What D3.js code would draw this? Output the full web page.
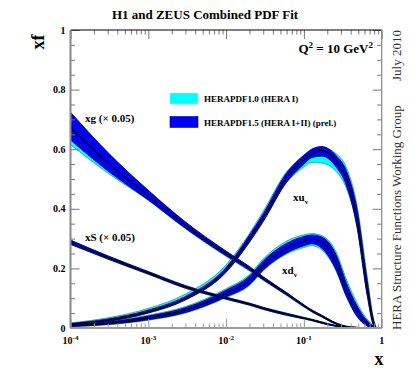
<!DOCTYPE html>
<html>
<head>
<meta charset="utf-8">
<script src="https://cdn.jsdelivr.net/npm/d3@7"></script>
<style>
  body { margin: 0; background: #fff; }
  svg { font-family: "Liberation Serif", "Times New Roman", serif; }
</style>
</head>
<body>
<div id="chart"></div>
<script>
/*
------------------------------
DATA: x grid and the PDF values
------------------------------
*/
const xGrid = [0.0001, 0.0003, 0.001, 0.003, 0.01, 0.02, 0.03, 0.06, 0.1, 0.126, 0.17, 0.26, 0.35, 0.48, 0.65, 0.78, 0.85];

// xg (x 0.05)
const xgCentral = [0.672, 0.555, 0.445, 0.345, 0.25, 0.2, 0.167, 0.115, 0.075, 0.058, 0.04, 0.015, 0.005, 0.001, 0, 0, 0];
const xgBlueLo  = [0.631, 0.528, 0.43, 0.335, 0.243, 0.194, 0.162, 0.111, 0.072, 0.055, 0.037, 0.013, 0.004, 0, 0, 0, 0];
const xgBlueHi  = [0.724, 0.59, 0.462, 0.356, 0.258, 0.206, 0.172, 0.119, 0.078, 0.061, 0.043, 0.017, 0.006, 0.002, 0, 0, 0];
const xgCyanLo  = [0.615, 0.52, 0.428, 0.333, 0.24, 0.191, 0.16, 0.109, 0.07, 0.054, 0.036, 0.012, 0.003, 0, 0, 0, 0];
const xgCyanHi  = [0.65, 0.545, 0.448, 0.35, 0.255, 0.205, 0.17, 0.118, 0.077, 0.06, 0.042, 0.016, 0.006, 0.002, 0, 0, 0];

// xS (x 0.05)
const xsCentral = [0.288, 0.237, 0.185, 0.138, 0.1, 0.08, 0.066, 0.046, 0.033, 0.027, 0.018, 0.007, 0.003, 0.001, 0, 0, 0];
const xsBlueLo  = [0.281, 0.232, 0.181, 0.134, 0.097, 0.077, 0.063, 0.043, 0.031, 0.025, 0.016, 0.006, 0.002, 0, 0, 0, 0];
const xsBlueHi  = [0.295, 0.242, 0.189, 0.142, 0.103, 0.083, 0.069, 0.049, 0.035, 0.029, 0.02, 0.008, 0.004, 0.002, 0, 0, 0];
const xsCyanLo  = [0.28, 0.231, 0.18, 0.133, 0.096, 0.076, 0.062, 0.042, 0.03, 0.024, 0.015, 0.005, 0.002, 0, 0, 0, 0];
const xsCyanHi  = [0.294, 0.243, 0.19, 0.143, 0.104, 0.084, 0.07, 0.05, 0.036, 0.03, 0.021, 0.009, 0.004, 0.002, 0, 0, 0];

// xu_v
const xuCentral = [0.012, 0.026, 0.055, 0.1, 0.195, 0.3, 0.37, 0.505, 0.565, 0.585, 0.597, 0.56, 0.505, 0.37, 0.135, 0.02, 0];
const xuBlueLo  = [0.009, 0.022, 0.05, 0.094, 0.187, 0.288, 0.357, 0.49, 0.55, 0.572, 0.577, 0.54, 0.48, 0.34, 0.11, 0.01, 0];
const xuBlueHi  = [0.015, 0.03, 0.06, 0.106, 0.203, 0.312, 0.383, 0.52, 0.58, 0.6, 0.609, 0.578, 0.528, 0.4, 0.16, 0.03, 0];
const xuCyanLo  = [0.009, 0.023, 0.053, 0.1, 0.192, 0.292, 0.36, 0.488, 0.54, 0.555, 0.553, 0.525, 0.47, 0.345, 0.115, 0.012, 0];
const xuCyanHi  = [0.017, 0.034, 0.066, 0.114, 0.212, 0.318, 0.392, 0.525, 0.578, 0.594, 0.605, 0.585, 0.54, 0.415, 0.175, 0.035, 0];

// xd_v
const xdCentral = [0.008, 0.016, 0.034, 0.06, 0.116, 0.16, 0.21, 0.268, 0.292, 0.298, 0.288, 0.22, 0.13, 0.057, 0.015, 0.003, 0];
const xdBlueLo  = [0.005, 0.012, 0.028, 0.052, 0.105, 0.146, 0.195, 0.252, 0.276, 0.283, 0.268, 0.195, 0.108, 0.04, 0.007, 0, 0];
const xdBlueHi  = [0.011, 0.02, 0.04, 0.068, 0.127, 0.174, 0.225, 0.284, 0.307, 0.312, 0.305, 0.245, 0.152, 0.075, 0.024, 0.006, 0];
const xdCyanLo  = [0.004, 0.011, 0.026, 0.05, 0.102, 0.143, 0.192, 0.248, 0.27, 0.276, 0.262, 0.19, 0.105, 0.038, 0.006, 0, 0];
const xdCyanHi  = [0.012, 0.022, 0.043, 0.072, 0.132, 0.18, 0.232, 0.292, 0.313, 0.317, 0.31, 0.255, 0.165, 0.085, 0.03, 0.008, 0];

// axis ticks
const yMajorTicks = [0, 0.2, 0.4, 0.6, 0.8, 1];
const yLabels = ["0", "0.2", "0.4", "0.6", "0.8", "1"];
const xMajorTicks = [1e-4, 1e-3, 1e-2, 1e-1, 1];
const xExponents = ["-4", "-3", "-2", "-1", ""];

const legendItems = ["HERAPDF1.0 (HERA I)", "HERAPDF1.5 (HERA I+II) (prel.)"];

/*
------------------------------
METHOD: set the size of the canvas
------------------------------
*/
const width = 411;
const height = 373;
const margin = { top: 30, right: 29.3, bottom: 45, left: 70.5 };

const cyan = "#00ffff";
const blue = "#0000f5";

const svg = d3
  .select("#chart")
  .append("svg")
  .attr("width", width)
  .attr("height", height);

const x = d3
  .scaleLog()
  .domain([1e-4, 1])
  .range([margin.left, width - margin.right]);

const y = d3
  .scaleLinear()
  .domain([0, 1])
  .range([height - margin.bottom, margin.top]);

/*
------------------------------
METHOD: draw bands and central lines
------------------------------
*/
function drawBand(lo, hi, fill, stroke, sw) {
  const area = d3
    .area()
    .x((d, i) => x(xGrid[i]))
    .y0((d, i) => y(lo[i]))
    .y1((d, i) => y(hi[i]))
    .curve(d3.curveMonotoneX);
  svg
    .append("path")
    .datum(lo)
    .attr("d", area)
    .attr("fill", fill)
    .attr("stroke", stroke)
    .attr("stroke-width", sw)
    .attr("stroke-linejoin", "round");
}

function drawLine(vals) {
  const line = d3
    .line()
    .x((d, i) => x(xGrid[i]))
    .y((d) => y(d))
    .curve(d3.curveMonotoneX);
  svg
    .append("path")
    .datum(vals)
    .attr("d", line)
    .attr("fill", "none")
    .attr("stroke", "#000")
    .attr("stroke-width", 1.1);
}

// HERAPDF1.0 bands first
drawBand(xgCyanLo, xgCyanHi, cyan, "#3c7f8c", 0.7);
drawBand(xsCyanLo, xsCyanHi, cyan, "#3c7f8c", 0.7);
drawBand(xuCyanLo, xuCyanHi, cyan, "#3c7f8c", 0.7);
drawBand(xdCyanLo, xdCyanHi, cyan, "#3c7f8c", 0.7);

// HERAPDF1.5 bands on top
drawBand(xgBlueLo, xgBlueHi, blue, "#000050", 0.9);
drawBand(xsBlueLo, xsBlueHi, blue, "#000050", 0.9);
drawBand(xuBlueLo, xuBlueHi, blue, "#000050", 0.9);
drawBand(xdBlueLo, xdBlueHi, blue, "#000050", 0.9);

drawLine(xgCentral);
drawLine(xsCentral);
drawLine(xuCentral);
drawLine(xdCentral);

/*
------------------------------
METHOD: axes (ROOT style, ticks inside the frame)
------------------------------
*/
const x0 = margin.left;
const x1 = width - margin.right;
const y0 = height - margin.bottom;
const y1 = margin.top;

const yMinor = d3.range(0, 1.0001, 0.05).filter((v) => Math.abs(v * 5 - Math.round(v * 5)) > 1e-6);
const xMinor = x.ticks().filter((v) => !xMajorTicks.some((m) => Math.abs(m - v) / v < 1e-6));

function styleAxis(g, color) {
  g.select(".domain").remove();
  g.selectAll(".tick line").attr("stroke", color).attr("stroke-width", 1);
}

// left
svg.append("g").attr("transform", `translate(${x0},0)`)
  .call(d3.axisLeft(y).tickValues(yMajorTicks).tickSize(-9).tickFormat(""))
  .call((g) => styleAxis(g, "#777"));
svg.append("g").attr("transform", `translate(${x0},0)`)
  .call(d3.axisLeft(y).tickValues(yMinor).tickSize(-4.5).tickFormat(""))
  .call((g) => styleAxis(g, "#777"));
// right
svg.append("g").attr("transform", `translate(${x1},0)`)
  .call(d3.axisRight(y).tickValues(yMajorTicks).tickSize(-9).tickFormat(""))
  .call((g) => styleAxis(g, "#777"));
svg.append("g").attr("transform", `translate(${x1},0)`)
  .call(d3.axisRight(y).tickValues(yMinor).tickSize(-4.5).tickFormat(""))
  .call((g) => styleAxis(g, "#777"));
// bottom
svg.append("g").attr("transform", `translate(0,${y0})`)
  .call(d3.axisBottom(x).tickValues(xMajorTicks).tickSize(-9).tickFormat(""))
  .call((g) => styleAxis(g, "#999"));
svg.append("g").attr("transform", `translate(0,${y0})`)
  .call(d3.axisBottom(x).tickValues(xMinor).tickSize(-4.5).tickFormat(""))
  .call((g) => styleAxis(g, "#999"));
// top
svg.append("g").attr("transform", `translate(0,${y1})`)
  .call(d3.axisTop(x).tickValues(xMajorTicks).tickSize(-9).tickFormat(""))
  .call((g) => styleAxis(g, "#777"));
svg.append("g").attr("transform", `translate(0,${y1})`)
  .call(d3.axisTop(x).tickValues(xMinor).tickSize(-4.5).tickFormat(""))
  .call((g) => styleAxis(g, "#777"));

// frame
svg.append("line").attr("x1", x0).attr("x2", x1).attr("y1", y1).attr("y2", y1)
  .attr("stroke", "#000").attr("stroke-width", 1.2);
svg.append("line").attr("x1", x1).attr("x2", x1).attr("y1", y1).attr("y2", y0)
  .attr("stroke", "#888").attr("stroke-width", 1.2);
svg.append("line").attr("x1", x0).attr("x2", x0).attr("y1", y1).attr("y2", y0)
  .attr("stroke", "#888").attr("stroke-width", 2);
svg.append("line").attr("x1", x0).attr("x2", x1).attr("y1", y0).attr("y2", y0)
  .attr("stroke", "#999").attr("stroke-width", 2);

// y labels
svg.append("g").selectAll("text").data(yMajorTicks).join("text")
  .attr("x", x0 - 5)
  .attr("y", (d) => y(d) + 3.5)
  .attr("text-anchor", "end")
  .attr("font-weight", "bold")
  .attr("font-size", 10)
  .text((d, i) => yLabels[i]);

// x labels with exponents
const xl = svg.append("g").selectAll("text").data(xMajorTicks).join("text")
  .attr("x", (d) => x(d))
  .attr("y", y0 + 16)
  .attr("text-anchor", "middle")
  .attr("font-weight", "bold")
  .attr("font-size", 10);
xl.each(function (d, i) {
  const t = d3.select(this);
  if (xExponents[i] === "") {
    t.text("1");
  } else {
    t.append("tspan").text("10");
    t.append("tspan").attr("dy", -4).attr("font-size", 7).text(xExponents[i]);
  }
});

/*
------------------------------
METHOD: titles and annotations
------------------------------
*/
svg.append("text").attr("x", 205).attr("y", 19).attr("text-anchor", "middle")
  .attr("font-weight", "bold").attr("font-size", 13).text("H1 and ZEUS Combined PDF Fit");

svg.append("text").attr("transform", "translate(44,42) rotate(-90)").attr("text-anchor", "middle")
  .attr("font-weight", "bold").attr("font-size", 18).text("xf");

svg.append("text").attr("x", 379).attr("y", 365).attr("text-anchor", "middle")
  .attr("font-weight", "bold").attr("font-size", 18).text("x");

const q = svg.append("text").attr("x", 373).attr("y", 53).attr("text-anchor", "end")
  .attr("font-weight", "bold").attr("font-size", 13);
q.append("tspan").text("Q");
q.append("tspan").attr("dy", -5).attr("font-size", 9).text("2");
q.append("tspan").attr("dy", 5).text(" = 10 GeV");
q.append("tspan").attr("dy", -5).attr("font-size", 9).text("2");

svg.append("text").attr("transform", "translate(401,81) rotate(-90)")
  .attr("font-size", 13).attr("fill", "#333").text("July 2010");
svg.append("text").attr("transform", "translate(401,330) rotate(-90)")
  .attr("font-size", 13).attr("fill", "#333").text("HERA Structure Functions Working Group");

svg.append("text").attr("x", 85).attr("y", 122).attr("font-weight", "bold").attr("font-size", 11)
  .text("xg (\u00d7 0.05)");
svg.append("text").attr("x", 85).attr("y", 241).attr("font-weight", "bold").attr("font-size", 11)
  .text("xS (\u00d7 0.05)");

const uv = svg.append("text").attr("x", 293).attr("y", 201).attr("font-weight", "bold").attr("font-size", 11);
uv.append("tspan").text("xu");
uv.append("tspan").attr("dy", 3).attr("font-size", 7).text("v");
const dv = svg.append("text").attr("x", 282).attr("y", 274).attr("font-weight", "bold").attr("font-size", 11);
dv.append("tspan").text("xd");
dv.append("tspan").attr("dy", 3).attr("font-size", 7).text("v");

// legend
const legend = svg.append("g").attr("transform", "translate(170,93)");
legend.selectAll("rect").data(legendItems).join("rect")
  .attr("x", 0)
  .attr("y", (d, i) => i * 23.5)
  .attr("width", 28)
  .attr("height", 11)
  .attr("fill", (d, i) => (i === 0 ? cyan : blue))
  .attr("stroke", (d, i) => (i === 0 ? "#8fd" : "#00a"))
  .attr("stroke-width", 0.6);
legend.selectAll("text").data(legendItems).join("text")
  .attr("x", 34)
  .attr("y", (d, i) => i * 23.5 + 9)
  .attr("font-weight", "bold")
  .attr("font-size", 9)
  .text((d) => d);
</script>
</body>
</html>
